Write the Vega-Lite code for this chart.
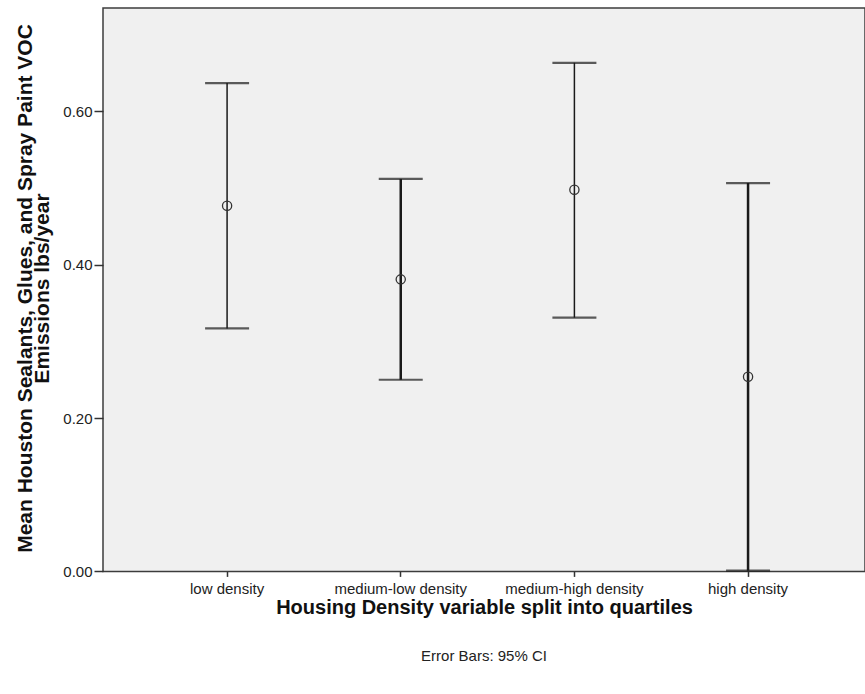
{
  "$schema": "https://vega.github.io/schema/vega-lite/v6.json",
  "width": 762,
  "height": 563.4,
  "autosize": "none",
  "padding": {"left": 103, "top": 8, "right": 0, "bottom": 122.6},
  "background": "white",
  "config": {
    "font": "Liberation Sans",
    "view": {"fill": "#f0f0f0", "stroke": "#3c3c3c", "strokeWidth": 1.5},
    "axis": {"labelFont": "Liberation Sans", "titleFont": "Liberation Sans", "labelColor": "#222", "titleColor": "#111", "grid": false, "domain": false, "tickColor": "#333", "tickWidth": 1.5}
  },
  "title": {"text": "Error Bars: 95% CI", "orient": "bottom", "anchor": "middle", "fontSize": 15, "fontWeight": "normal", "color": "#222", "offset": 32, "font": "Liberation Sans"},
  "data": {"values": [
    {"density": "low density", "mean": 0.477, "lower": 0.317, "upper": 0.637},
    {"density": "medium-low density", "mean": 0.381, "lower": 0.250, "upper": 0.512},
    {"density": "medium-high density", "mean": 0.498, "lower": 0.331, "upper": 0.6635},
    {"density": "high density", "mean": 0.254, "lower": 0.001, "upper": 0.5066}
  ]},
  "encoding": {
    "x": {"field": "density", "type": "nominal", "sort": null,
      "scale": {"type": "band", "paddingInner": 0, "paddingOuter": 0.194, "align": 0.553},
      "axis": {"title": "Housing Density variable split into quartiles", "labelAngle": 0, "labelFontSize": 15, "tickSize": 5, "labelPadding": 5, "titleFontSize": 20, "titleFontWeight": "bold", "titlePadding": 1}}
  },
  "layer": [
    {"mark": {"type": "rule", "color": "#1a1a1a"},
     "encoding": {
       "y": {"field": "lower", "type": "quantitative", "scale": {"domain": [0, 0.735], "nice": false, "zero": false},
         "title": ["Mean Houston Sealants, Glues, and Spray Paint VOC", "Emissions lbs/year"],
         "axis": {"values": [0, 0.2, 0.4, 0.6], "format": ".2f", "labelFontSize": 15, "tickSize": 9, "labelPadding": 2, "titleFontSize": 21, "titleFontWeight": "bold", "titleAngle": -90, "titleX": -72, "titleY": 280, "titleAlign": "center", "titleBaseline": "alphabetic", "titleLineHeight": 17}},
       "y2": {"field": "upper"},
       "strokeWidth": {"condition": {"test": "datum.density === 'medium-low density' || datum.density === 'high density'", "value": 2.5}, "value": 1.5}
     }},
    {"mark": {"type": "tick", "color": "#1a1a1a", "thickness": 2.2, "size": 44},
     "encoding": {"y": {"field": "upper", "type": "quantitative", "title": ["Mean Houston Sealants, Glues, and Spray Paint VOC", "Emissions lbs/year"]}}},
    {"mark": {"type": "tick", "color": "#1a1a1a", "thickness": 2.2, "size": 44},
     "encoding": {"y": {"field": "lower", "type": "quantitative", "title": ["Mean Houston Sealants, Glues, and Spray Paint VOC", "Emissions lbs/year"]}}},
    {"mark": {"type": "point", "shape": "circle", "filled": false, "size": 85, "strokeWidth": 1.3, "color": "#333", "opacity": 1},
     "encoding": {"y": {"field": "mean", "type": "quantitative", "title": ["Mean Houston Sealants, Glues, and Spray Paint VOC", "Emissions lbs/year"]}}}
  ]
}
